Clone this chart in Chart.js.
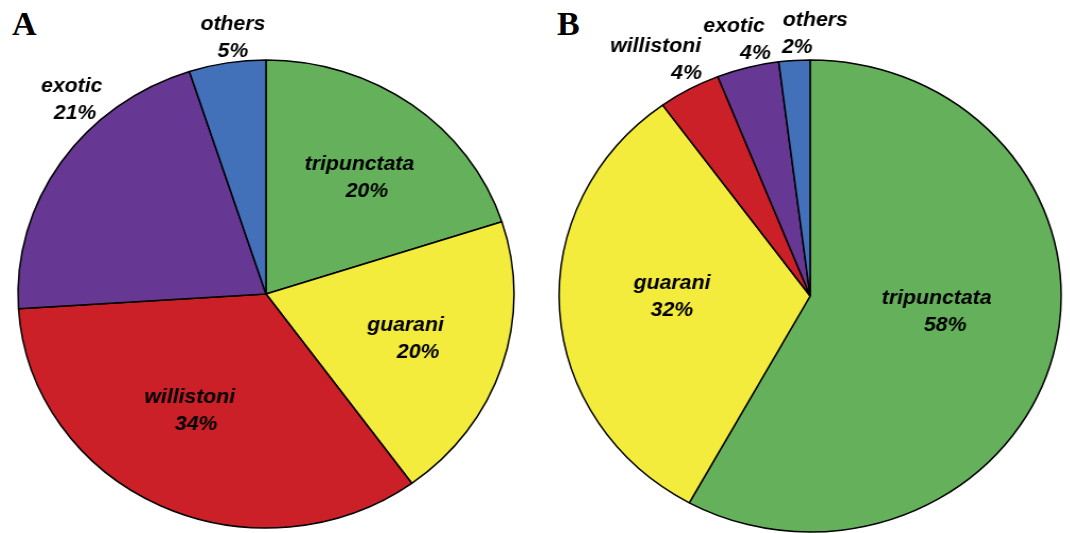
<!DOCTYPE html>
<html>
<head>
<meta charset="utf-8">
<script src="https://cdn.jsdelivr.net/npm/chart.js@4.4.1/dist/chart.umd.min.js"></script>
<style>
  html, body { margin: 0; padding: 0; background: #fff; }
  body { width: 1070px; height: 533px; position: relative; overflow: hidden; }
  .panel { position: absolute; top: 0; transform-origin: 0 0; }
  .letter { position: absolute; font-family: "Liberation Serif", "DejaVu Serif", serif; font-weight: bold; font-size: 34px; line-height: 1; color: #000; }
</style>
</head>
<body>
<div class="letter" style="left:12px; top:7px;">A</div>
<div class="letter" style="left:557px; top:7px;">B</div>
<div class="panel" id="wrapA" style="left:0px; transform:scaleX(1.0598);">
  <canvas id="chartA" width="520" height="533" style="width:520px;height:533px;"></canvas>
</div>
<div class="panel" id="wrapB" style="left:540px; transform:scaleX(1.0636);">
  <canvas id="chartB" width="500" height="533" style="width:500px;height:533px;"></canvas>
</div>
<script>
// ---- data ----
const categories = ['tripunctata', 'guarani', 'willistoni', 'exotic', 'others'];
const valuesA = [20, 20, 34, 21, 5];
const valuesB = [58, 32, 4, 4, 2];

// ---- styles ----
const sliceColors = ['#65b15b', '#f4ec3d', '#cc2029', '#673893', '#4270b9'];

// label layout relative to each slice (radius factor, angle nudge in degrees, line shift)
const layoutA = { rf: [0.612, 0.627, 0.602, 1.118, 1.079], turn: [3.8, 2.3, 4.1, 11.8, 1.9], shift: [-3.5, -6, -3, -1.5, 0] };
const layoutB = { rf: [0.529, 0.551, 1.122, 1.093, 1.085], turn: [-4.5, 0.7, -0.8, 0.6, 2.8], shift: [-4, 0, -14.5, -10, 8.5] };

const sliceLabels = {
  id: 'sliceLabels',
  afterDatasetsDraw(chart, args, opts) {
    const ctx = chart.ctx;
    const meta = chart.getDatasetMeta(0);
    const vals = chart.data.datasets[0].data;
    const lay = opts.layout;
    ctx.save();
    ctx.fillStyle = '#000';
    ctx.font = 'italic bold 20px "Liberation Sans", Arial, sans-serif';
    ctx.textAlign = 'center';
    ctx.textBaseline = 'alphabetic';
    meta.data.forEach((arc, i) => {
      const p = arc.getProps(['x', 'y', 'startAngle', 'endAngle', 'outerRadius'], true);
      const mid = (p.startAngle + p.endAngle) / 2 + lay.turn[i] * Math.PI / 180;
      const r = p.outerRadius * lay.rf[i];
      const ax = p.x + r * Math.cos(mid);
      const ay = p.y + r * Math.sin(mid);
      ctx.fillText(chart.data.labels[i], ax + lay.shift[i], ay - 13.5);
      ctx.fillText(vals[i] + '%', ax - lay.shift[i], ay + 13.5);
    });
    ctx.restore();
  }
};

function makePie(id, values, radius, padding, layout) {
  return new Chart(document.getElementById(id), {
    type: 'pie',
    data: {
      labels: categories,
      datasets: [{
        data: values,
        backgroundColor: sliceColors,
        borderColor: '#000',
        borderWidth: 1.5
      }]
    },
    options: {
      responsive: false,
      animation: false,
      events: [],
      radius: radius,
      layout: { padding: padding },
      plugins: {
        legend: { display: false },
        tooltip: { enabled: false },
        title: { display: false },
        sliceLabels: { layout: layout }
      }
    },
    plugins: [sliceLabels]
  });
}

makePie('chartA', valuesA, 234, { left: 0, right: 18, top: 55, bottom: 0 }, layoutA);
makePie('chartB', valuesB, 236, { left: 8, right: 0, top: 59, bottom: 0 }, layoutB);
</script>
</body>
</html>
